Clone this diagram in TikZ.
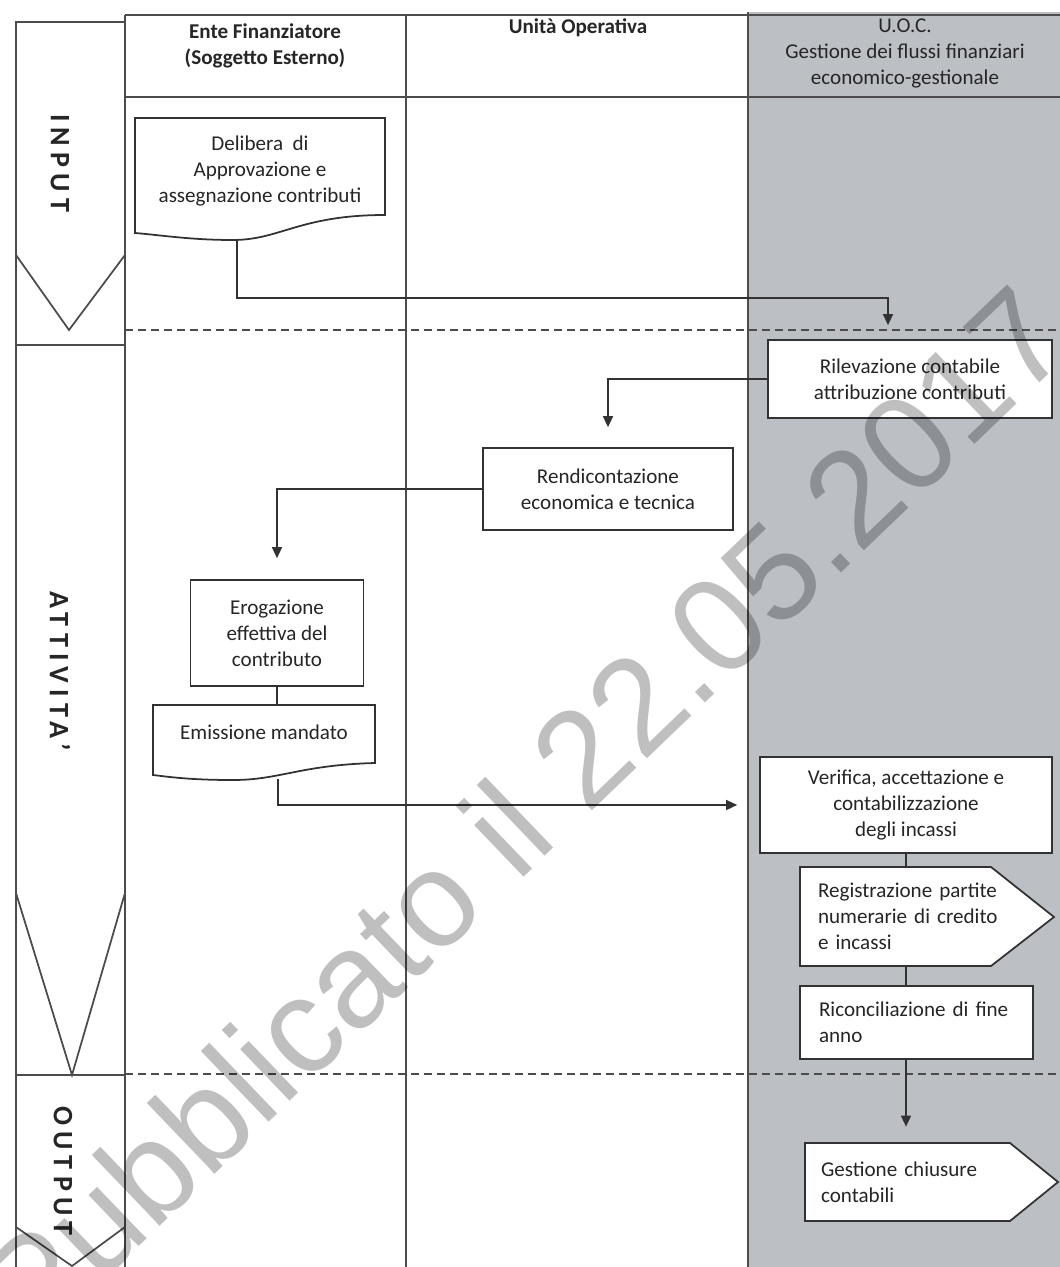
\documentclass[tikz,border=0pt]{standalone}
\usepackage{fontspec}
\setmainfont{Carlito}
\newfontfamily\stampfont{Liberation Sans}
\usepackage{tikz}
\usetikzlibrary{positioning, arrows.meta, calc}

\definecolor{lanegray}{RGB}{188,192,197}
\definecolor{ink}{RGB}{50,50,50}

\tikzset{
  box/.style={draw=ink, line width=1pt, fill=white, align=center, inner sep=2pt},
  plain/.style={align=center, inner sep=0pt},
  outline/.style={draw=ink, line width=1pt, fill=white},
  flow/.style={-{Triangle[length=0.22cm,width=0.2cm]}, draw=ink, line width=0.9pt},
  link/.style={draw=ink, line width=0.9pt},
  lane/.style={draw=black!70, line width=1pt},
  dashline/.style={draw=black!70, line width=0.9pt, dash pattern=on 0.16cm off 0.1cm},
  phase/.style={rotate=-90, inner sep=0pt,
    font=\fontsize{16}{18}\bfseries\addfontfeatures{LetterSpace=22}},
  stamp/.style={rotate=43.8, inner sep=0pt, text=black, text opacity=0.25,
    font=\stampfont\fontsize{77}{80}\selectfont}
}

\begin{document}
\begin{tikzpicture}[x=0.02cm, y=-0.02cm, font=\fontsize{12}{14.8}\selectfont, text=black!85]
\useasboundingbox (0,0) rectangle (1060,1267);

% swimlanes
\fill[lanegray] (748,12) rectangle (1060,1267);
\draw[lane] (125,15) -- (1060,15);
\draw[lane] (125,97) -- (1060,97);
\draw[lane] (125,15) -- (125,1267);
\draw[lane] (406,15) -- (406,1267);
\draw[lane] (748,12) -- (748,1267);
\draw[lane] (16,22) -- (16,1267);
\draw[dashline] (125,330) -- (1060,330);
\draw[dashline] (125,1074) -- (1060,1074);

% phases
\draw[lane] (16,22) -- (125,22) -- (125,255) -- (69,330) -- (16,255) -- cycle;
\draw[lane] (16,345) -- (125,345) -- (125,893) -- (72,1075) -- (16,893) -- cycle;
\draw[lane] (16,1075) -- (125,1075) -- (125,1227) -- (72,1266) -- (16,1227) -- cycle;
\node[phase] (input) at (60,163) {INPUT};
\node[phase] (attivita) at (60,671) {ATTIVITA'};
\node[phase] (output) at (63,1171) {OUTPUT};

% headers
\node[plain, font=\fontsize{12}{14.8}\bfseries] (ente) at (265,46) {Ente Finanziatore\\(Soggetto Esterno)};
\node[plain, font=\fontsize{12}{14.8}\bfseries] (unita) at (578,28) {Unità Operativa};
\node[plain] (uoc) at (905,53) {U.O.C.\\Gestione dei flussi finanziari\\economico-gestionale};

% documents
\draw[outline] (135,118) -- (385,118) -- (385,215) .. controls (300,215) and (280,240) .. (233,240)
  .. controls (190,240) and (160,235) .. (135,233) -- cycle;
\node[plain, minimum width=5cm, minimum height=2.1cm] (delib) at (260,171) {Delibera\ \ di\\Approvazione e\\assegnazione contributi};
\coordinate (delibbot) at (237,240);

\draw[outline] (153,705) -- (375,705) -- (375,763) .. controls (300,765) and (280,780) .. (233,780)
  .. controls (190,780) and (170,777) .. (153,775) -- cycle;
\node[plain, minimum width=4.44cm, minimum height=1.1cm] (emis) at (264,732) {Emissione mandato};
\coordinate (emisbot) at (278,779);

% tags
\draw[outline] (800,867) -- (991,867) -- (1054,917) -- (991,966) -- (800,966) -- cycle;
\node[plain, align=left, text width=4.36cm, inner xsep=0.36cm, minimum height=1.98cm] (regis) at (927,916.5) {Registrazione partite\\numerarie di credito\\e incassi};
\draw[outline] (805,1143) -- (1010,1143) -- (1058,1182) -- (1010,1221) -- (805,1221) -- cycle;
\node[plain, align=left, text width=4.42cm, inner xsep=0.32cm, minimum height=1.56cm] (gest) at (931.5,1182) {Gestione chiusure\\contabili};

% boxes
\node[box, minimum width=5.68cm, minimum height=1.56cm] (rilev) at (910,379) {Rilevazione contabile\\attribuzione contributi};
\node[box, minimum width=5cm, minimum height=1.64cm] (rend) at (608,489) {Rendicontazione\\economica e tecnica};
\node[box, minimum width=3.46cm, minimum height=2.12cm] (erog) at (277,633) {Erogazione\\effettiva del\\contributo};
\node[box, minimum width=5.84cm, minimum height=1.92cm] (verif) at (906,805) {Verifica, accettazione e\\contabilizzazione\\degli incassi};
\node[box, align=left, text width=3.9cm, inner xsep=0.38cm, minimum height=1.46cm] (ricon) at (916.5,1022.5) {Riconciliazione di fine\\anno};

% connectors
\draw[flow] (delibbot) |- (888,298) -- ([shift={(-22,-14)}]rilev.north);
\draw[flow, shorten >=0.4cm] (rilev.west) -| (rend.north);
\draw[flow, shorten >=0.42cm] (rend.west) -| (erog.north);
\draw[link] (erog.south) -- (erog.south |- emis.north);
\draw[flow, shorten >=0.44cm] (emisbot) |- (verif.west);
\draw[link] (verif.south) -- (verif.south |- regis.north);
\draw[link] (verif.south |- regis.south) -- (verif.south |- ricon.north);
\draw[flow, shorten >=0.32cm] (verif.south |- ricon.south) -- (verif.south |- gest.north);

% watermark
\node[stamp] (pubbl) at (522,812) {Pubblicato il 22.05.2017};
\end{tikzpicture}
\end{document}
